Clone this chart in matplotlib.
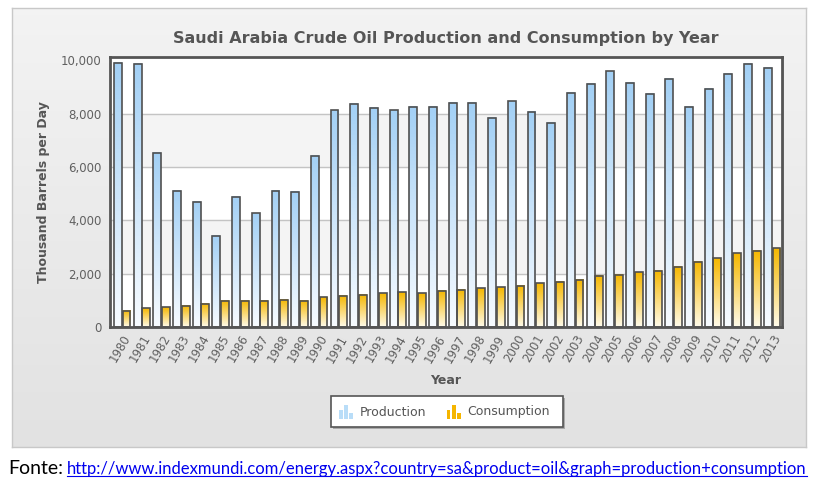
import numpy as np
import matplotlib
matplotlib.use('Agg')
import matplotlib.pyplot as plt
from matplotlib.patches import Rectangle
from matplotlib.colors import to_rgb
from matplotlib.ticker import FuncFormatter

years = [str(y) for y in range(1980, 2014)]
production = [9910, 9860, 6525, 5114, 4688, 3427, 4875, 4263, 5114, 5063,
              6426, 8125, 8362, 8212, 8125, 8263, 8263, 8413, 8413, 7850,
              8463, 8075, 7663, 8788, 9113, 9588, 9163, 8738, 9300, 8263,
              8925, 9488, 9863, 9725]
consumption = [600, 700, 740, 790, 875, 975, 975, 975, 1025, 975,
               1113, 1163, 1213, 1263, 1300, 1263, 1350, 1400, 1450, 1488,
               1538, 1638, 1688, 1775, 1913, 1963, 2050, 2100, 2250, 2438,
               2575, 2763, 2863, 2950]

W, H = 819, 484
fig = plt.figure(figsize=(W / 100, H / 100), dpi=100)
fig.patch.set_facecolor('white')


def fx(px):
    return px / W


def fy(py):
    return 1 - py / H


def vgrad(top, bottom, n=64):
    t = np.array(to_rgb(top))
    b = np.array(to_rgb(bottom))
    k = np.linspace(0, 1, n)[:, None]
    return (b + (t - b) * k)[:, None, :]


# outer grey panel
bg = fig.add_axes([fx(12), fy(447), fx(794), 439 / H], zorder=0)
bg.imshow(vgrad('#f3f3f3', '#e2e2e2'), aspect='auto', origin='lower',
          extent=(0, 1, 0, 1))
bg.set_xlim(0, 1)
bg.set_ylim(0, 1)
bg.set_xticks([])
bg.set_yticks([])
for s in bg.spines.values():
    s.set_color('#c8c8c8')
    s.set_linewidth(1)

# frame shadow
fig.patches.append(Rectangle((fx(112), fy(329)), fx(672), 272 / H,
                             transform=fig.transFigure, facecolor='#bbbbbb',
                             edgecolor='none', zorder=1))

ax = fig.add_axes([fx(110), fy(327), fx(672), 270 / H], zorder=2)
ax.set_facecolor('white')

ax.axhspan(6000, 8000, color='#f4f4f4', zorder=0)
ax.axhspan(2000, 4000, color='#f4f4f4', zorder=0)
for g in [2000, 4000, 6000, 8000]:
    ax.axhline(g, color='#c4c4c4', lw=1, zorder=1)

bw = 0.40
x = np.arange(len(years))
prod_grad = vgrad('#a3d0f5', '#f7fbff')
cons_grad = vgrad('#f5b700', '#fffbea')
for i in x:
    p = production[i]
    c = consumption[i]
    x0 = i - bw - 0.02
    ax.imshow(prod_grad, aspect='auto', origin='lower',
              extent=(x0, x0 + bw, 0, p), zorder=2)
    x1 = i + 0.02
    ax.imshow(cons_grad, aspect='auto', origin='lower',
              extent=(x1, x1 + bw, 0, c), zorder=2)
ax.bar(x - 0.02 - bw / 2, production, width=bw, facecolor='none',
       edgecolor='#505050', linewidth=1.2, zorder=3)
ax.bar(x + 0.02 + bw / 2, consumption, width=bw, facecolor='none',
       edgecolor='#505050', linewidth=1.2, zorder=3)
ax.set_xlim(-0.62, len(years) - 0.5)
ax.set_ylim(0, 10120)

for s in ax.spines.values():
    s.set_color('#555555')
    s.set_linewidth(2)
    s.set_zorder(5)

ax.set_yticks([0, 2000, 4000, 6000, 8000, 10000])
ax.yaxis.set_major_formatter(FuncFormatter(lambda v, _: f'{int(v):,}'))
ax.set_xticks(x)
ax.set_xticklabels(years, rotation=60, ha='right', rotation_mode='anchor')
ax.tick_params(axis='both', length=0, colors='#606060', labelsize=8.5)
ax.tick_params(axis='y', pad=6)
ax.tick_params(axis='x', pad=4)

ax.set_ylabel('Thousand Barrels per Day', fontsize=9, fontweight='bold',
              color='#555555', labelpad=8)
fig.text(fx(446), fy(380), 'Year', fontsize=9, fontweight='bold',
         color='#555555', ha='center', va='center')
fig.text(fx(446), fy(39), 'Saudi Arabia Crude Oil Production and Consumption by Year',
         fontsize=11.5, fontweight='bold', color='#555555',
         ha='center', va='center')

# legend box
fig.patches.append(Rectangle((fx(333), fy(429)), fx(232), 31 / H,
                             transform=fig.transFigure, facecolor='#aaaaaa',
                             edgecolor='none', zorder=3))
fig.patches.append(Rectangle((fx(331), fy(427)), fx(232), 31 / H,
                             transform=fig.transFigure, facecolor='white',
                             edgecolor='#555555', lw=1.2, zorder=4))
for x0, col in [(339, '#b9ddf8'), (447, '#f5b500')]:
    for dx, top in [(0, 410), (5, 405), (10, 413)]:
        fig.patches.append(Rectangle((fx(x0 + dx), fy(419)), fx(3.5), (419 - top) / H,
                                     transform=fig.transFigure, facecolor=col,
                                     edgecolor='none', zorder=5))
fig.text(fx(360), fy(412), 'Production', fontsize=9, color='#555555',
         ha='left', va='center', zorder=6)
fig.text(fx(467), fy(412), 'Consumption', fontsize=9, color='#555555',
         ha='left', va='center', zorder=6)

# source line
t1 = fig.text(fx(8), fy(468), 'Fonte:', fontsize=14, family='Lato',
              color='black', ha='left', va='center')
t2 = fig.text(fx(67), fy(469), 'http://www.indexmundi.com/energy.aspx?country=sa&product=oil&graph=production+consumption',
              fontsize=12, family='Lato', color='#0000ee', ha='left', va='center')
fig.canvas.draw()
bb = t2.get_window_extent().transformed(fig.transFigure.inverted())
fig.add_artist(plt.Line2D([bb.x0, bb.x1], [bb.y0 + 0.003, bb.y0 + 0.003],
                          transform=fig.transFigure, color='#0000ee', lw=0.8))

fig.savefig('out.png', dpi=100)
